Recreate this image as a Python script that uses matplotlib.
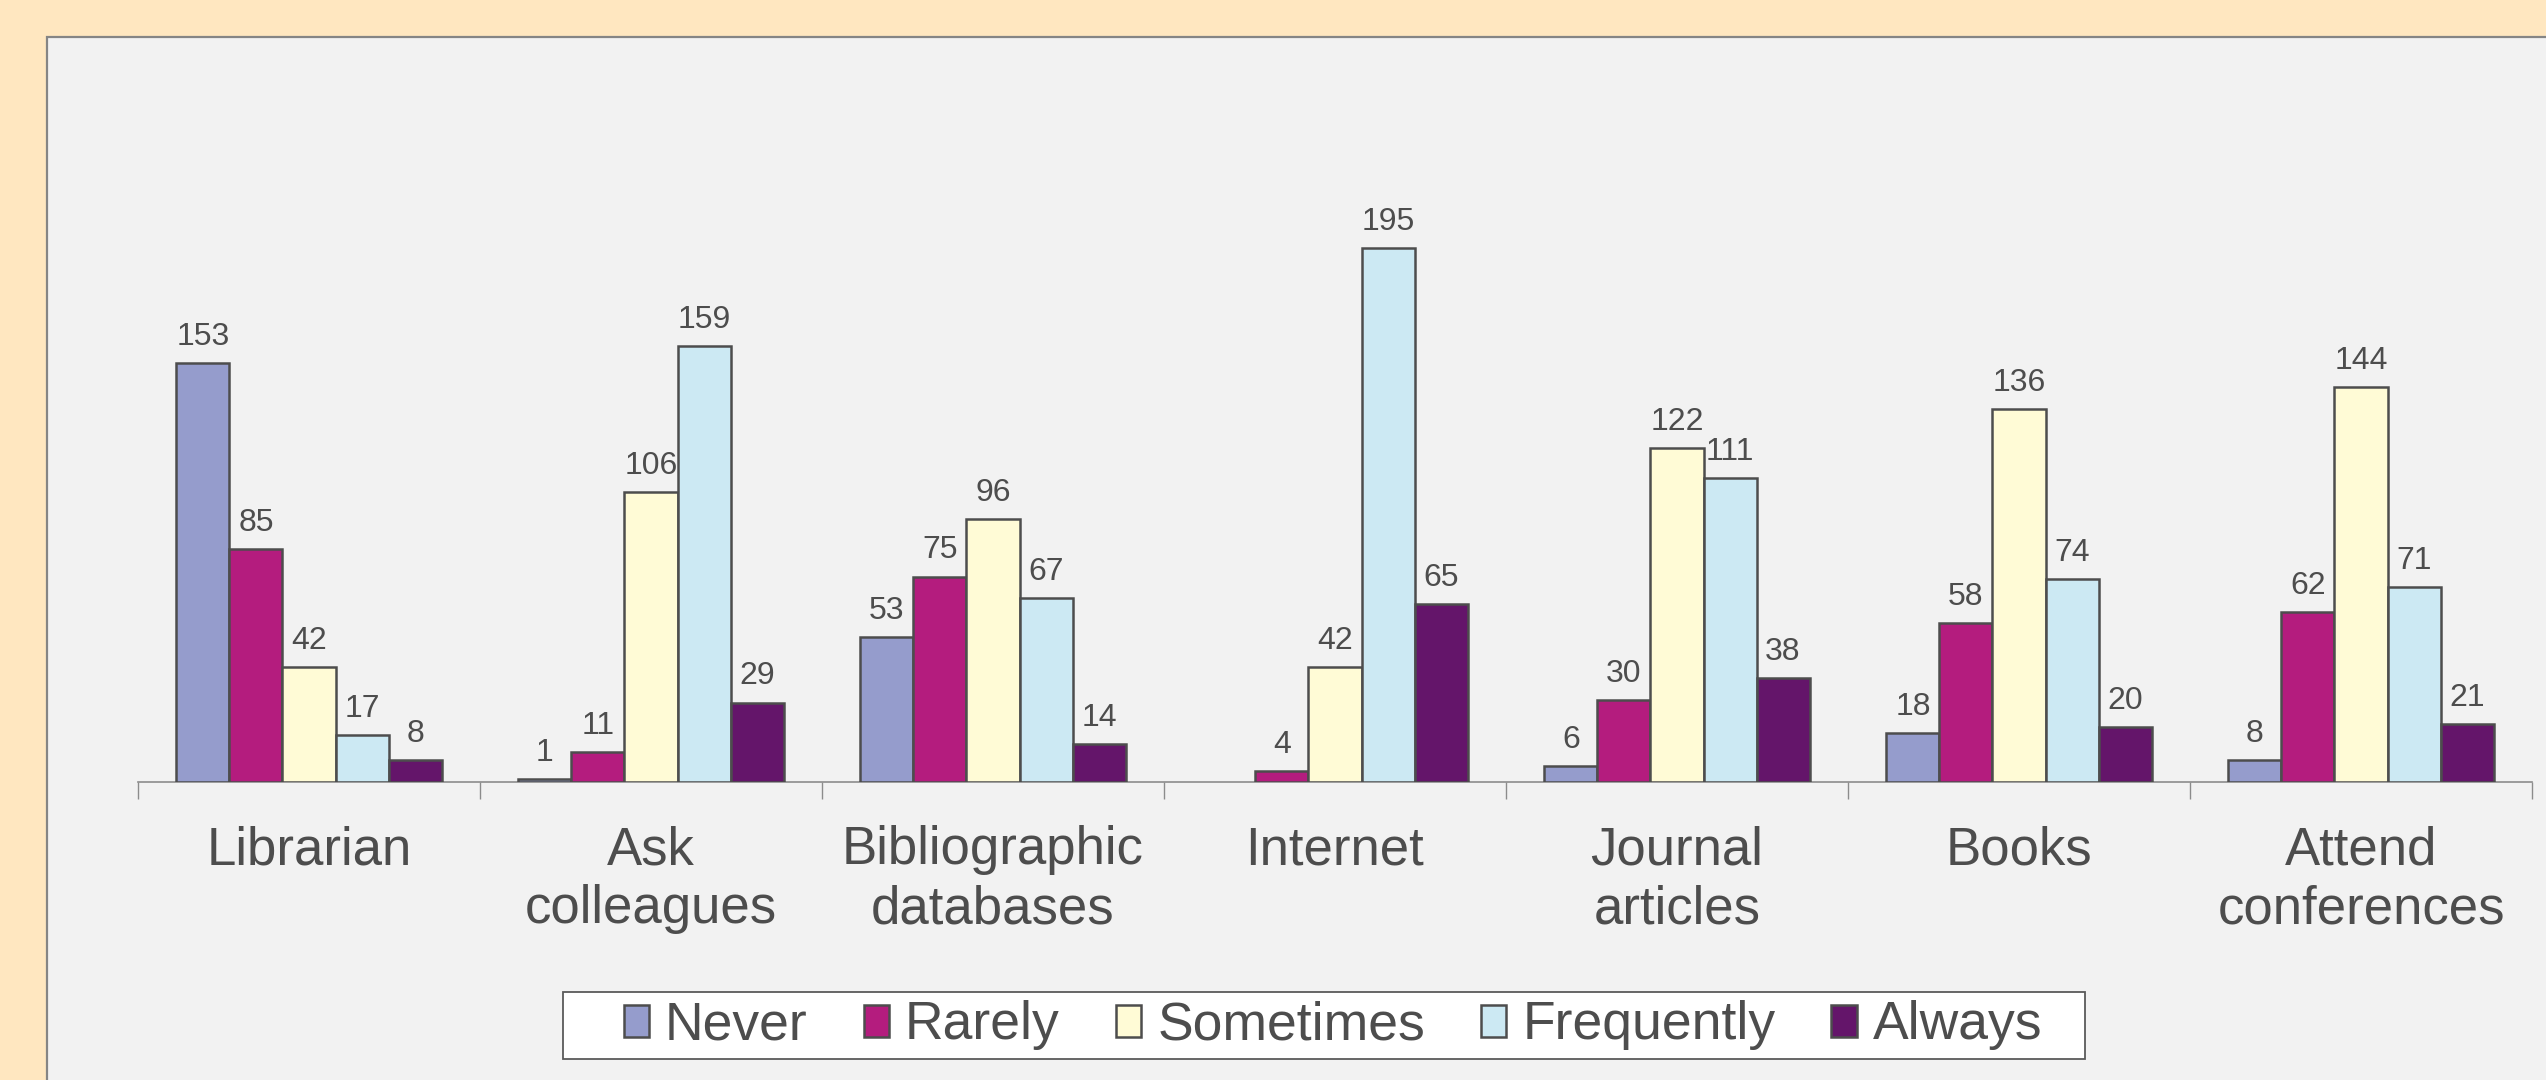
import matplotlib
matplotlib.use("Agg")
import matplotlib.pyplot as plt
from matplotlib.patches import Rectangle
import numpy as np

categories = ["Librarian", "Ask\ncolleagues", "Bibliographic\ndatabases", "Internet",
              "Journal\narticles", "Books", "Attend\nconferences"]
series_names = ["Never", "Rarely", "Sometimes", "Frequently", "Always"]
never = [153, 1, 53, 0, 6, 18, 8]
rarely = [85, 11, 75, 4, 30, 58, 62]
sometimes = [42, 106, 96, 42, 122, 136, 144]
frequently = [17, 159, 67, 195, 111, 74, 71]
always = [8, 29, 14, 65, 38, 20, 21]
colors = ["#959CCC", "#B41C7E", "#FFFBD6", "#CCE9F3", "#64156A"]

plt.rcParams['font.family'] = ['Liberation Sans', 'DejaVu Sans']
TXT = "#4D4D4D"

W, H = 2546, 1080
fig = plt.figure(figsize=(W / 100, H / 100), dpi=100)
fig.patch.set_facecolor("#FFE7C0")

# inner panel
fig.patches.append(Rectangle((47 / W, -0.2), 1.2, 1 - 37 / H + 0.2, transform=fig.transFigure,
                             facecolor="#F2F2F2", edgecolor="#858585", linewidth=1.6, zorder=-10))

ax = fig.add_axes([138 / W, 298 / H, (2532 - 138) / W, 685 / H])
ax.set_zorder(1)
ax.set_facecolor("none")
for s in ["top", "left", "right"]:
    ax.spines[s].set_visible(False)
ax.spines["bottom"].set_color("#8C8C8C")
ax.spines["bottom"].set_linewidth(1.2)

data = [never, rarely, sometimes, frequently, always]
n = len(categories)
x = np.arange(n)
bw = 0.155
for i, (vals, col, name) in enumerate(zip(data, colors, series_names)):
    pos = x + (i - 2) * bw
    ecs = ["#4D4D4D" if v > 0 else "none" for v in vals]
    ax.bar(pos, vals, width=bw, color=col, edgecolor=ecs, linewidth=1.8,
           label=name, zorder=3)
    for px, v in zip(pos, vals):
        if v == 0:
            continue
        ax.annotate(str(v), (px, v), xytext=(0, 13), textcoords="offset points",
                    ha="center", va="baseline", fontsize=23, color=TXT)

ax.set_xlim(-0.5, n - 0.5)
ax.set_ylim(0, 250)
ax.set_yticks([])
ax.set_xticks(np.arange(n + 1) - 0.5)
ax.set_xticklabels([])
ax.tick_params(axis="x", which="major", direction="out", length=12, width=1, color="#8C8C8C")
ax.set_xticks(x, minor=True)
ax.set_xticklabels(categories, minor=True, fontsize=38, color=TXT, linespacing=1.23)
ax.tick_params(axis="x", which="minor", length=0, pad=31)

# legend frame
fig.patches.append(Rectangle((563 / W, 1 - 1059 / H), (2085 - 563) / W, 67 / H,
                             transform=fig.transFigure, facecolor="white",
                             edgecolor="#5A5A5A", linewidth=1.3, zorder=2))
leg = fig.legend(loc="center", bbox_to_anchor=(1333 / W, 1 - 1025.5 / H), ncol=5,
                 frameon=False, fontsize=38.5, handlelength=0.47, handleheight=0.54,
                 handletextpad=0.3, columnspacing=1.05, borderpad=0.1)
leg.set_zorder(5)
for h in leg.legend_handles:
    h.set_edgecolor("#4D4D4D")
for t in leg.get_texts():
    t.set_color(TXT)

fig.savefig("out.png", dpi=100, facecolor=fig.get_facecolor())
